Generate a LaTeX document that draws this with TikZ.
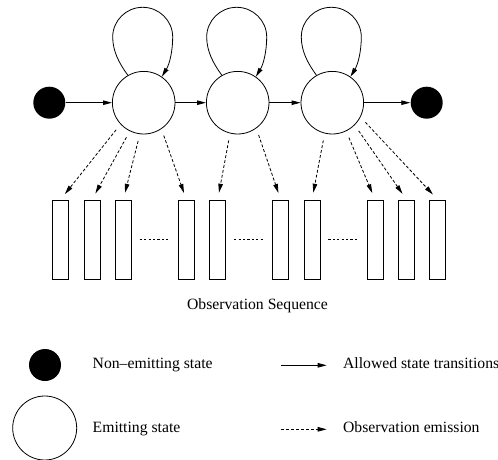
\documentclass[tikz,border=0pt]{standalone}
\usepackage{fontspec}
\setmainfont{Liberation Serif}
\usetikzlibrary{arrows.meta,calc}
\begin{document}
\begin{tikzpicture}[x=1pt,y=1pt,line width=0.8pt,
  emitting/.style={circle,draw,minimum size=62.6pt,inner sep=0pt},
  nonemit/.style={circle,fill=black,minimum size=32pt,inner sep=0pt},
  obsbox/.style={rectangle,draw,minimum width=16pt,minimum height=79pt,inner sep=0pt},
  trans/.style={-{Triangle[length=9pt,width=4.5pt]}},
  emit/.style={-{Triangle[length=9pt,width=4.5pt]},dash pattern=on 3pt off 2pt,shorten <=7pt,shorten >=7pt},
  dotline/.style={dash pattern=on 2.2pt off 2.2pt,shorten <=8pt,shorten >=8pt},
  lbl/.style={anchor=base west,inner sep=0pt,font=\fontsize{15.7pt}{18pt}\selectfont}]
\useasboundingbox (0,0) rectangle (498,-460);
% states
\node[nonemit] (s0) at (49.3,-102.7) {};
\node[emitting] (c1) at (143.7,-102.7) {};
\node[emitting] (c2) at (237.7,-102.7) {};
\node[emitting] (c3) at (332.3,-102.7) {};
\node[nonemit] (s4) at (426.7,-102.7) {};
% transitions
\draw[trans] (s0) -- (c1);
\draw[trans] (c1) -- (c2);
\draw[trans] (c2) -- (c3);
\draw[trans] (c3) -- (s4);
% self loops
\foreach \c in {c1,c2,c3}{
  \draw[trans] (\c.120.6) .. controls ($(\c)+(-25,40)$) and ($(\c)+(-31,52)$) .. ($(\c)+(-31,65.7)$)
     .. controls ($(\c)+(-31,82)$) and ($(\c)+(-17.6,95.4)$) .. ($(\c)+(-1,95.4)$)
     .. controls ($(\c)+(15.6,95.4)$) and ($(\c)+(29,82)$) .. ($(\c)+(29,65.7)$)
     .. controls ($(\c)+(29,52)$) and ($(\c)+(26,39)$) .. (\c.55.7);
}
% observation boxes
\foreach \i/\x in {1/60.5,2/92,3/123.3,4/186.3,5/217.7,6/280.7,7/312,8/375,9/406.5,10/437.7}{
  \node[obsbox] (r\i) at (\x,-239.5) {};
}
\draw[dotline] (r3.east) -- (r4.west);
\draw[dotline] (r5.east) -- (r6.west);
\draw[dotline] (r7.east) -- (r8.west);
% emissions
\draw[emit] (c1.223.5) -- (r1.north);
\draw[emit] (c1.244.2) -- (r2.north);
\draw[emit] (c1.263.4) -- (r3.north);
\draw[emit] (c1.304.1) -- (r4.north);
\draw[emit] (c2.256.4) -- (r5.north);
\draw[emit] (c2.306.9) -- (r6.north);
\draw[emit] (c3.256.7) -- (r7.north);
\draw[emit] (c3.296.2) -- (r8.north);
\draw[emit] (c3.315.4) -- (r9.north);
\draw[emit] (c3.333.7) -- (r10.north);
\node[lbl] (title) at (186.7,-309) {Observation Sequence};
% legend
\node[nonemit] (lg1) at (45,-365) {};
\node[emitting,minimum size=64pt] (lg2) at (44.7,-428) {};
\node[lbl] (t1) at (92.3,-368.7) {Non–emitting state};
\node[lbl] (t2) at (92.3,-432.7) {Emitting state};
\coordinate (a1s) at (281,-365.3);
\coordinate (a1e) at (326.7,-365.3);
\coordinate (a2s) at (281,-429.3);
\coordinate (a2e) at (326.7,-429.3);
\draw[trans] (a1s) -- (a1e);
\draw[-{Triangle[length=9pt,width=4.5pt]},dash pattern=on 3pt off 2pt] (a2s) -- (a2e);
\node[lbl] (t3) at (342.7,-368.7) {Allowed state transitions};
\node[lbl] (t4) at (342.7,-432.7) {Observation emission};
\end{tikzpicture}
\end{document}
